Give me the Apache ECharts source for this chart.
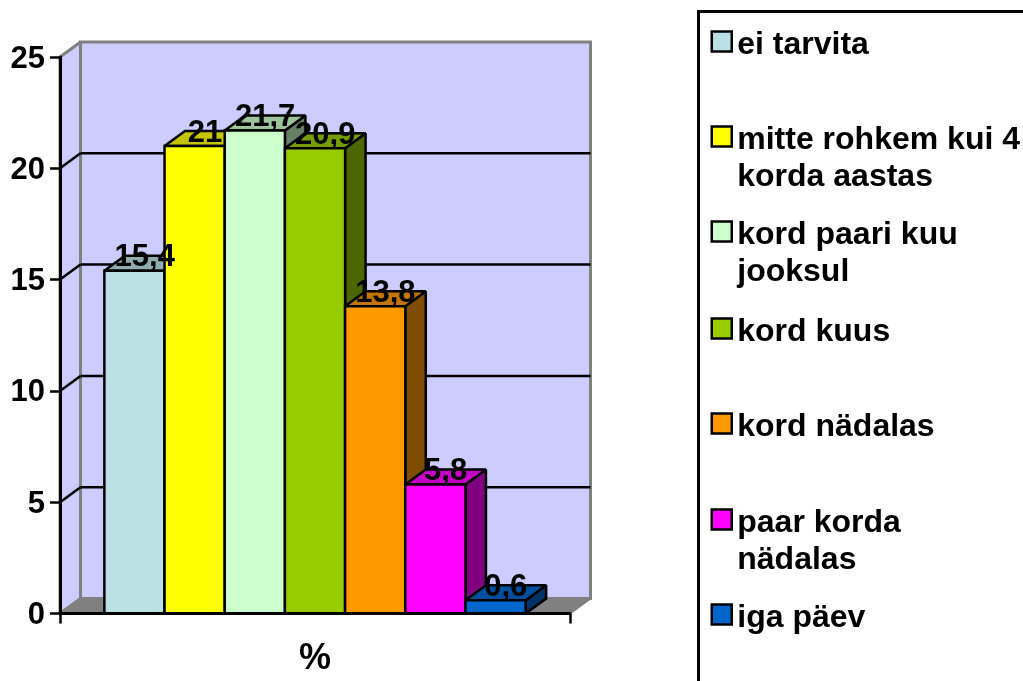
<!DOCTYPE html>
<html><head><meta charset="utf-8">
<style>html,body{margin:0;padding:0;background:#fff}#c{width:1023px;height:681px}</style>
<script src="https://cdn.jsdelivr.net/npm/echarts@6/dist/echarts.min.js"></script>
</head><body><div id="c"></div>
<script>
var categories = ["%"];
var seriesNames = ["ei tarvita","mitte rohkem kui 4\nkorda aastas","kord paari kuu\njooksul","kord kuus","kord nädalas","paar korda\nnädalas","iga päev"];
var seriesValues = [15.4,21,21.7,20.9,13.8,5.8,0.6];
var frontColors = ["#BBE0E3","#FFFF00","#CCFFCC","#99CC00","#FF9900","#FF00FF","#0066CC"];
var topColors = ["#8FACAE","#C4C400","#9CC49C","#759C00","#C47500","#C400C4","#004E9C"];
var sideColors = ["#5E7072","#808000","#668066","#4C6600","#804C00","#800080","#003366"];
var yTicks = [0,5,10,15,20,25];

var DX = 20.5, DY = -15, FONT = 'bold 31px "Liberation Sans", Arial, sans-serif';
var LEGEND_CENTERS = [43,138,233,330,425,521,616], LINE = 37.5;

function poly(pts, fill, stroke, lw, z2){
  return {type:'polygon', z2:z2||0, shape:{points:pts}, style:{fill:fill, stroke:stroke, lineWidth:lw||2.5, lineJoin:'miter', miterLimit:1.5}};
}
function line(a,b,stroke,lw,z2){
  return {type:'line', z2:z2||0, shape:{x1:a[0],y1:a[1],x2:b[0],y2:b[1]}, style:{stroke:stroke, lineWidth:lw, fill:null}};
}
function renderWall(params, api){
  var t = api.value(1), c = api.coord([api.value(0), t]), half = api.size([1,0])[0]/2;
  var L = c[0]-half, R = c[0]+half, y = c[1];
  var kids = [];
  var edge = (params.dataIndex===0 || params.dataIndex===yTicks.length-1);
  if (params.dataIndex===0){
    var top = api.coord([api.value(0), yTicks[yTicks.length-1]])[1];
    kids.push(poly([[L+DX,top+DY],[R+DX,top+DY],[R+DX,y+DY],[L+DX,y+DY]],'#CCCCFF','#808080',3,0));
    kids.push(poly([[L,top],[L+DX,top+DY],[L+DX,y+DY],[L,y]],'#CCCCFF','#808080',3,0));
    kids.push(poly([[L,y],[R,y],[R+DX,y+DY],[L+DX,y+DY]],'#808080','#808080',2,1));
  } else if (!edge){
    kids.push(line([L,y],[L+DX,y+DY],'#000',2.5,2));
    kids.push(line([L+DX,y+DY],[R+DX,y+DY],'#000',2.5,2));
  }
  return {type:'group', children:kids};
}
function renderBar(i){
  return function(params, api){
    var v = api.value(1), top = api.coord([api.value(0), v]), base = api.coord([api.value(0), 0]);
    var band = api.size([1,0])[0], w = band*0.826/seriesValues.length;
    var x0 = top[0]-w*seriesValues.length/2+i*w, x1 = x0+w, yt = top[1], yb = base[1];
    return {type:'group', children:[
      poly([[x1,yb],[x1+DX,yb+DY],[x1+DX,yt+DY],[x1,yt]], sideColors[i], '#000', 2.5, 10+i),
      poly([[x0,yt],[x1,yt],[x1+DX,yt+DY],[x0+DX,yt+DY]], topColors[i], '#000', 2.5, 10+i),
      poly([[x0,yb],[x1,yb],[x1,yt],[x0,yt]], frontColors[i], '#000', 2.5, 10+i),
      {type:'text', z2:100, style:{text:String(v).replace('.',','), x:(x0+x1+DX)/2, y:yt+DY+2, font:FONT, fill:'#000', align:'center', verticalAlign:'middle'}}
    ]};
  };
}

var series = [{
  type:'custom', name:'wall', silent:true, z:2, renderItem:renderWall,
  encode:{x:0,y:1}, data:yTicks.map(function(t){return [categories[0],t];})
}];
seriesNames.forEach(function(n,i){
  series.push({type:'custom', name:n, silent:true, z:2, renderItem:renderBar(i),
    itemStyle:{color:frontColors[i]}, encode:{x:0,y:1}, data:[[categories[0],seriesValues[i]]]});
});

var legends = seriesNames.map(function(n,i){
  var two = n.indexOf('\n')>=0;
  return {
    data:[{name:n, icon:'path://M0 0H20V20H0ZM0 27', itemStyle:{color:frontColors[i], borderColor:'#000', borderWidth:2.5}}],
    formatter:function(s){ return s.indexOf('\n')>=0 ? '\n'+s : s; },
    left:710.5, top: two ? LEGEND_CENTERS[i]+2-LINE*1.5 : LEGEND_CENTERS[i]+2-LINE/2,
    orient:'vertical', padding:0, itemWidth:21, itemHeight:27, itemGap:0, selectedMode:false,
    textStyle:{color:'#000', fontSize:32, fontWeight:'bold', fontFamily:'Liberation Sans', lineHeight:LINE}
  };
});

var chart = echarts.init(document.getElementById('c'), null, {renderer:'canvas'});
chart.setOption({
  animation:false, backgroundColor:'#fff', tooltip:{show:false},
  grid:{left:60, top:57, width:510, height:556.5, containLabel:false},
  xAxis:{type:'category', data:categories, z:20,
    axisLine:{lineStyle:{color:'#000',width:3}},
    axisTick:{show:true, alignWithLabel:false, length:10, lineStyle:{color:'#000',width:2.5}},
    axisLabel:{margin:28, color:'#000', fontSize:36, fontWeight:'bold', fontFamily:'Liberation Sans'}},
  yAxis:{type:'value', min:yTicks[0], max:yTicks[yTicks.length-1], interval:5, z:20,
    axisLine:{show:true, lineStyle:{color:'#000',width:3}},
    axisTick:{show:true, length:10, lineStyle:{color:'#000',width:2.5}},
    splitLine:{show:false},
    axisLabel:{margin:15, verticalAlign:'top', lineHeight:4, color:'#000', fontSize:31, fontWeight:'bold', fontFamily:'Liberation Sans'}},
  legend:legends,
  series:series,
  graphic:[{type:'rect', z:-1, shape:{x:698.5,y:11.5,width:400,height:760}, style:{fill:'#fff', stroke:'#000', lineWidth:3}}]
});
</script></body></html>
